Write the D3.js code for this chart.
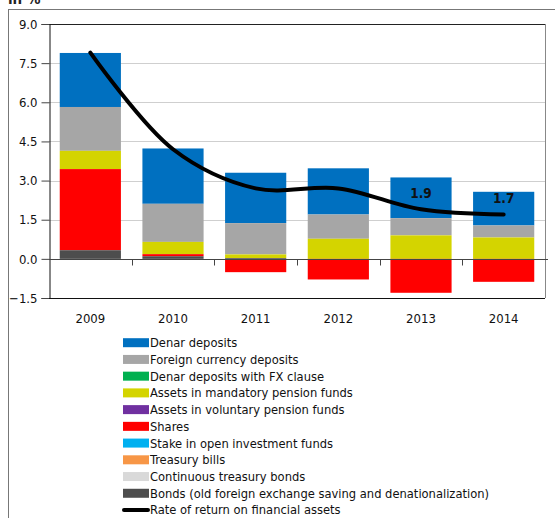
<!DOCTYPE html>
<html><head><meta charset="utf-8">
<script src="https://cdn.jsdelivr.net/npm/d3@7"></script>
<style>
html,body{margin:0;padding:0;background:#fff;}
svg{display:block;}
text{font-family:"DejaVu Sans Condensed","DejaVu Sans",sans-serif;}
</style></head>
<body>
<svg id="chart" width="555" height="518"></svg>
<script>
const years = ["2009","2010","2011","2012","2013","2014"];
const seriesNames = ["Denar deposits","Foreign currency deposits","Denar deposits with FX clause","Assets in mandatory pension funds","Assets in voluntary pension funds","Shares","Stake in open investment funds","Treasury bills","Continuous treasury bonds","Bonds (old foreign exchange saving and denationalization)"];
const seriesColors = ["#0070C0","#A6A6A6","#00B050","#D4D400","#7030A0","#FF0000","#00B0F0","#F79646","#D9D9D9","#4D4D4D"];
const denarDeposits = [2.07, 2.12, 1.93, 1.77, 1.56, 1.29];
const fxDeposits = [1.68, 1.46, 1.20, 0.93, 0.66, 0.46];
const fxClauseDeposits = [0, 0, 0, 0, 0, 0];
const mandatoryPension = [0.70, 0.47, 0.14, 0.77, 0.90, 0.82];
const voluntaryPension = [0, 0, 0, 0, 0, 0];
const shares = [3.11, 0.08, -0.51, -0.79, -1.30, -0.88];
const openFunds = [0, 0, 0, 0, 0, 0];
const treasuryBills = [0, 0, 0, 0, 0, 0];
const contBonds = [0, 0, 0, 0, 0, 0];
const oldBonds = [0.33, 0.10, 0.03, 0, 0, 0];
const rateOfReturn = [7.9, 4.2, 2.7, 2.7, 1.9, 1.7];
const rateLabels = ["", "", "", "", "1.9", "1.7"];
const yTicks = [-1.5, 0, 1.5, 3.0, 4.5, 6.0, 7.5, 9.0];
const lineName = "Rate of return on financial assets";
const unitLabel = "in %";

const seriesValues = [denarDeposits, fxDeposits, fxClauseDeposits, mandatoryPension, voluntaryPension, shares, openFunds, treasuryBills, contBonds, oldBonds];
const table = years.map((y, i) => {
  const row = {year: y};
  seriesNames.forEach((n, k) => row[n] = seriesValues[k][i]);
  return row;
});

const svg = d3.select("#chart");
const L = 49, R = 545, T = 24, B = 298;
const FS = 12.8;

// outer border
svg.append("rect").attr("x", 8.5).attr("y", 9.5).attr("width", 600).attr("height", 600)
  .attr("fill", "none").attr("stroke", "#777").attr("stroke-width", 1);

svg.append("text").attr("x", 8).attr("y", 4).attr("font-size", 15).attr("font-weight", "bold")
  .attr("fill", "#222").text(unitLabel);

const x = d3.scaleBand().domain(years).range([L, R]).paddingInner(0.26).paddingOuter(0.13);
const y = d3.scaleLinear().domain([-1.5, 9]).range([B, T]);

// gridlines
svg.append("g").selectAll("line").data(yTicks.filter(t => t !== -1.5 && t !== 0 && t !== 9)).join("line")
  .attr("x1", L).attr("x2", R).attr("y1", d => Math.round(y(d)) + 0.5).attr("y2", d => Math.round(y(d)) + 0.5)
  .attr("stroke", "#cfcfcf").attr("stroke-width", 1);

// plot frame
svg.append("line").attr("x1", L).attr("x2", R).attr("y1", Math.round(y(9)) + 0.5).attr("y2", Math.round(y(9)) + 0.5).attr("stroke", "#222");
svg.append("line").attr("x1", R + 0.5).attr("x2", R + 0.5).attr("y1", y(9)).attr("y2", y(-1.5)).attr("stroke", "#888");

// stacked bars
const stack = d3.stack().keys(seriesNames).order(d3.stackOrderReverse).offset(d3.stackOffsetDiverging);
const stacked = stack(table);
svg.append("g").selectAll("g").data(stacked).join("g")
  .attr("fill", d => seriesColors[seriesNames.indexOf(d.key)])
  .selectAll("rect").data(d => d).join("rect")
  .attr("x", d => x(d.data.year))
  .attr("width", x.bandwidth())
  .attr("y", d => y(Math.max(d[0], d[1])))
  .attr("height", d => Math.abs(y(d[0]) - y(d[1])));

// y axis
const yAxis = svg.append("g").attr("transform", `translate(${L + 0.5},0)`)
  .call(d3.axisLeft(y).tickValues(yTicks).tickFormat(d3.format(".1f")).tickSize(8).tickPadding(4));
yAxis.select(".domain").attr("stroke", "#111");
yAxis.selectAll(".tick line").attr("stroke", "#444");
yAxis.selectAll("text").attr("font-size", 13).attr("fill", "#111").attr("font-family", '"DejaVu Sans Condensed","DejaVu Sans",sans-serif');

// bottom frame at -1.5
svg.append("line").attr("x1", L).attr("x2", R).attr("y1", Math.round(y(-1.5)) + 0.5).attr("y2", Math.round(y(-1.5)) + 0.5).attr("stroke", "#111");

// zero axis with boundary ticks
const y0 = Math.round(y(0)) + 0.5;
svg.append("line").attr("x1", L).attr("x2", R + 3).attr("y1", y0).attr("y2", y0).attr("stroke", "#444").attr("stroke-width", 1.2);
const step = x.step();
svg.append("g").selectAll("line").data(years.slice(1)).join("line")
  .attr("x1", d => Math.round(x(d) - step * 0.13) + 0.5).attr("x2", d => Math.round(x(d) - step * 0.13) + 0.5)
  .attr("y1", y0).attr("y2", y0 + 6).attr("stroke", "#444");

// category labels
svg.append("g").selectAll("text").data(years).join("text")
  .attr("x", d => x(d) + x.bandwidth() / 2).attr("y", 323)
  .attr("text-anchor", "middle").attr("font-size", 13).attr("fill", "#111").text(d => d);

// line
const cx = i => x(years[i]) + x.bandwidth() / 2;
const line = d3.line().x((d, i) => cx(i)).y(d => y(d)).curve(d3.curveCatmullRom.alpha(0.5));
svg.append("path").datum(rateOfReturn).attr("d", line)
  .attr("fill", "none").attr("stroke", "#000").attr("stroke-width", 4).attr("stroke-linecap", "round");

svg.append("g").selectAll("text").data(rateOfReturn).join("text")
  .attr("x", (d, i) => cx(i)).attr("y", (d, i) => y(d) - 11)
  .attr("text-anchor", "middle").attr("font-size", 13.5).attr("font-weight", "bold").attr("fill", "#111")
  .text((d, i) => rateLabels[i]);

// legend
const lg = svg.append("g");
const rowY = i => 342.7 + i * 16.73;
seriesNames.forEach((n, i) => {
  lg.append("rect").attr("x", 123).attr("y", rowY(i) - 4.5).attr("width", 26).attr("height", 9).attr("fill", seriesColors[i]);
  lg.append("text").attr("x", 150).attr("y", rowY(i)).attr("dy", "0.35em").attr("font-size", FS).attr("fill", "#111").text(n);
});
const li = seriesNames.length;
lg.append("line").attr("x1", 124).attr("x2", 148).attr("y1", rowY(li)).attr("y2", rowY(li))
  .attr("stroke", "#000").attr("stroke-width", 4).attr("stroke-linecap", "round");
lg.append("text").attr("x", 150).attr("y", rowY(li)).attr("dy", "0.35em").attr("font-size", FS).attr("fill", "#111").text(lineName);
</script>
</body></html>
